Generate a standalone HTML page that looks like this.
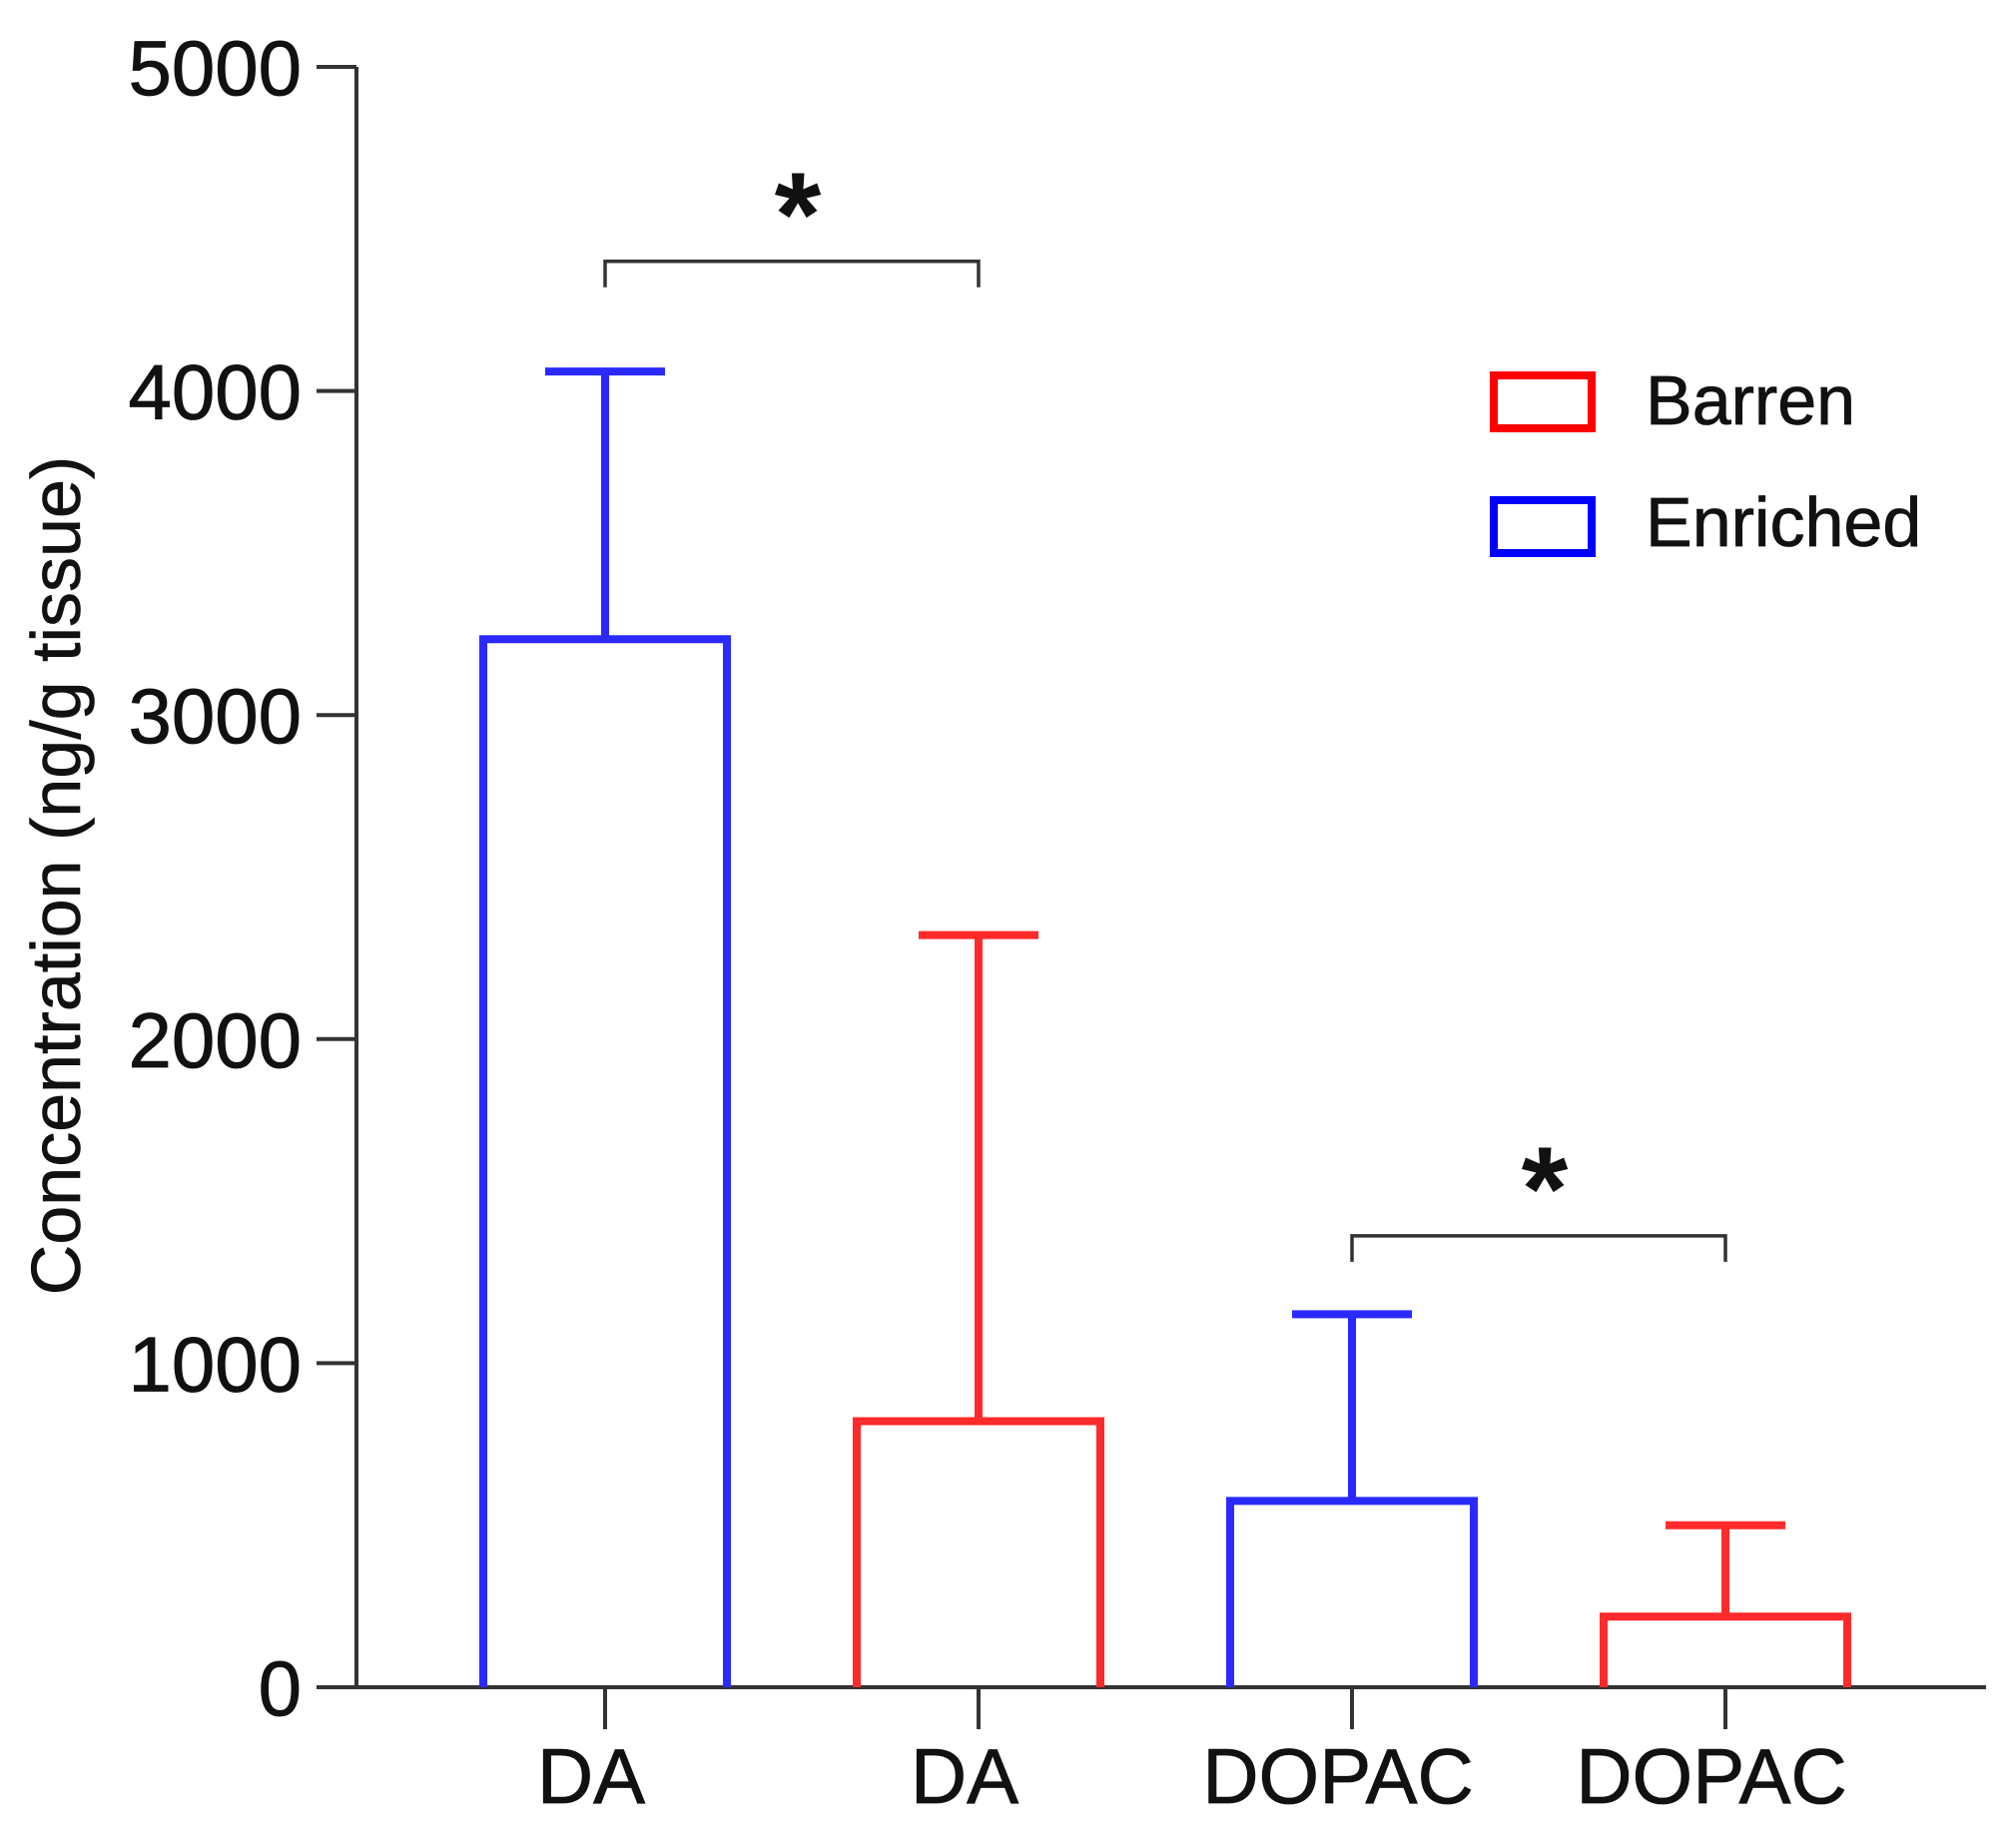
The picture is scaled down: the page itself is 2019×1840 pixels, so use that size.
<!DOCTYPE html>
<html><head><meta charset="utf-8"><style>
html,body{margin:0;padding:0;background:#fff;}
svg{display:block;font-family:"Liberation Sans",Arial,sans-serif;}
</style></head><body>
<svg id="chart" width="2019" height="1840" viewBox="0 0 2019 1840">
<g id="axes"></g>
<g id="bars"></g>
<g id="sig"></g>
<g id="legend">
  <rect x="1496" y="376" width="98" height="53" fill="none" stroke="#ff0000" stroke-width="8"/>
  <text x="1648" y="425" font-size="70" fill="#111" stroke="#111" stroke-width="0.8">Barren</text>
  <rect x="1496" y="501" width="98" height="53" fill="none" stroke="#0000ff" stroke-width="8"/>
  <text x="1648" y="547" font-size="70" fill="#111" stroke="#111" stroke-width="0.8">Enriched</text>
</g>
<text transform="translate(80,877) rotate(-90)" text-anchor="middle" font-size="70" fill="#111" stroke="#111" stroke-width="0.6">Concentration (ng/g tissue)</text>
</svg>
<script>
const categories = ["DA", "DA", "DOPAC", "DOPAC"];
const groups = ["Enriched", "Barren", "Enriched", "Barren"];
const means = [3234, 821, 575, 218];
const errors = [826, 1500, 576, 282];
const yTicks = [0, 1000, 2000, 3000, 4000, 5000];
const sigPairs = [[0, 1], [2, 3]];
const sigHeights = [4400, 1393];
const sigLabels = ["*", "*"];

const NS = "http://www.w3.org/2000/svg";
const y0 = 1690, y1 = 67, yMax = 5000;
const axisX = 357, axisRight = 1989;
const xStart = 606, xStep = 374, barW = 244;
function y(v){ return y0 - (v / yMax) * (y0 - y1); }
function x(i){ return xStart + i * xStep; }
function mk(tag, attrs, parent){
  const el = document.createElementNS(NS, tag);
  for (const k in attrs) el.setAttribute(k, attrs[k]);
  parent.appendChild(el);
  return el;
}
const axes = document.getElementById("axes");
const bars = document.getElementById("bars");
const sig = document.getElementById("sig");
const axisColor = "#333";

let yl = mk("line", {x1: axisX, y1: y(yMax), x2: axisX, y2: y0, stroke: axisColor, "stroke-width": 4}, axes);


let xl = mk("line", {x1: 317, y1: y0, x2: axisRight, y2: y0, stroke: axisColor, "stroke-width": 4}, axes);



yTicks.forEach(function(t){
  if (t !== 0) {
    const tk = mk("line", {x1: 317, y1: y(t), x2: axisX, y2: y(t), stroke: axisColor, "stroke-width": 4}, axes);
    
    
  }
  const lb = mk("text", {x: 302, y: y(t) + 28, "text-anchor": "end", "font-size": 78, fill: "#111", stroke: "#111", "stroke-width": 0.8}, axes);
  lb.textContent = t;
  
  
});

categories.forEach(function(c, i){
  const cx = x(i);
  const tk = mk("line", {x1: cx, y1: y0, x2: cx, y2: y0 + 42, stroke: axisColor, "stroke-width": 4}, axes);
  
  
  const lb = mk("text", {x: cx - 14, y: 1806, "text-anchor": "middle", "font-size": 78, fill: "#111", stroke: "#111", "stroke-width": 0.8}, axes);
  lb.textContent = c;
  
  

  const col = groups[i] === "Enriched" ? "#2a2aff" : "#ff2a2a";
  const top = y(means[i]);
  const et = y(means[i] + errors[i]);
  const eb = mk("line", {x1: cx, y1: top, x2: cx, y2: et, stroke: col, "stroke-width": 8}, bars);
  
  
  const cap = mk("line", {x1: cx - 60, y1: et, x2: cx + 60, y2: et, stroke: col, "stroke-width": 8}, bars);
  
  
  const b = mk("path", {d: "M" + (cx - barW/2) + "," + y0 + " V" + top + " H" + (cx + barW/2) + " V" + y0, fill: "none", stroke: col, "stroke-width": 8}, bars);
  
  
});

sigPairs.forEach(function(p, k){
  const a = x(p[0]), b = x(p[1]);
  const by = y(sigHeights[k]);
  const br = mk("path", {d: "M" + a + "," + (by + 26) + " V" + by + " H" + b + " V" + (by + 26), fill: "none", stroke: axisColor, "stroke-width": 3.5}, sig);
  
  
  const st = mk("text", {x: (a + b) / 2 + 6, y: by - 6, "text-anchor": "middle", "font-size": 120, "font-weight": "bold", fill: "#111"}, sig);
  st.textContent = sigLabels[k];
  
  
});
</script>
</body></html>
